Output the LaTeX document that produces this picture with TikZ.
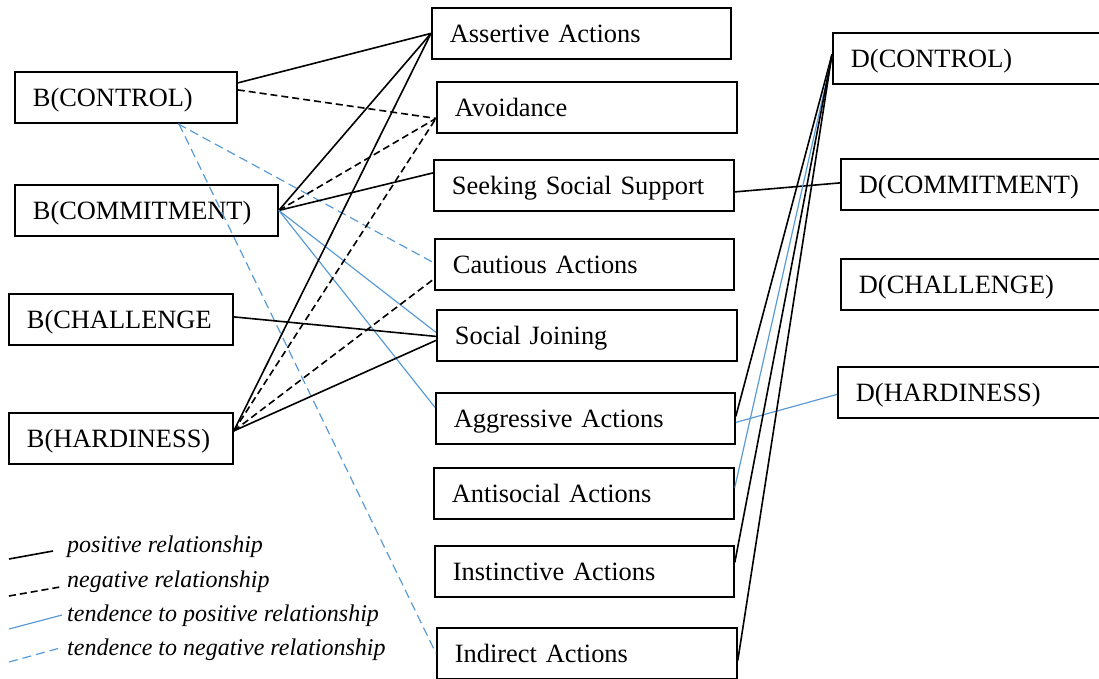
\documentclass[tikz,border=0pt]{standalone}
\usepackage{fontspec}
\setmainfont{Liberation Serif}
\usepackage{tikz}
\definecolor{relblue}{RGB}{91,155,213}
\tikzstyle{factor}  = [rectangle, draw, line width=1.8pt, minimum height=51pt,
                       inner xsep=18pt, inner ysep=0pt, text height=23pt, text depth=5pt,
                       align=left, anchor=north west, font=\fontsize{26.4}{30}\selectfont]
\tikzstyle{posrel}  = [black, line width=1.6pt]
\tikzstyle{negrel}  = [black, line width=1.6pt, dash pattern=on 7pt off 4pt]
\tikzstyle{tposrel} = [relblue, line width=1.2pt]
\tikzstyle{tnegrel} = [relblue, line width=1.2pt, dash pattern=on 9pt off 5pt]

\begin{document}
\begin{tikzpicture}[x=1pt, y=-1pt,
      legtext/.style={anchor=base west, inner sep=0pt,
                      font=\fontsize{24}{28}\selectfont\itshape},
    ]
    \useasboundingbox (0,0) rectangle (1099,679);
    \clip (0,0) rectangle (1099,679);

    % before
    \node[factor, text width=186pt] (bcon) at (14,71)  {B(CONTROL)};
    \node[factor, text width=227pt] (bcom) at (14,184) {B(COMMITMENT)};
    \node[factor, text width=188pt] (bcha) at (8,293)  {B(CHALLENGE};
    \node[factor, text width=188pt] (bhar) at (8,412)  {B(HARDINESS)};

    % coping actions
    \node[factor, text width=263pt] (assert) at (431,7)   {Assertive Actions};
    \node[factor, text width=264pt] (avoid)  at (436,81)  {Avoidance};
    \node[factor, text width=264pt] (seek)   at (433,159) {Seeking Social Support};
    \node[factor, text width=263pt] (caut)   at (434,238) {Cautious Actions};
    \node[factor, text width=264pt] (join)   at (436,309) {Social Joining};
    \node[factor, text width=263pt] (aggr)   at (435,392) {Aggressive Actions};
    \node[factor, text width=264pt] (anti)   at (433,467) {Antisocial Actions};
    \node[factor, text width=263pt] (inst)   at (434,545) {Instinctive Actions};
    \node[factor, text width=264pt] (indir)  at (436,627) {Indirect Actions};

    % during
    \node[factor, text width=264pt] (dcon) at (832,32)  {D(CONTROL)};
    \node[factor, text width=264pt] (dcom) at (840,158) {D(COMMITMENT)};
    \node[factor, text width=264pt] (dcha) at (840,258) {D(CHALLENGE)};
    \node[factor, text width=264pt] (dhar) at (837,366) {D(HARDINESS)};

    \draw[posrel]  ([yshift=14.5pt]bcon.east) -- (assert.west);
    \draw[negrel]  ([yshift=7.5pt]bcon.east) -- ([yshift=-11pt]avoid.west);
    \draw[tnegrel] ([xshift=52pt]bcon.south) -- ([yshift=1.5pt]caut.west);
    \draw[tnegrel] ([xshift=53pt]bcon.south) -- (indir.west);

    \draw[posrel]  (bcom.east) -- (assert.west);
    \draw[negrel]  (bcom.east) -- ([yshift=-11pt]avoid.west);
    \draw[posrel]  (bcom.east) -- ([yshift=12.5pt]seek.west);
    \draw[tposrel] (bcom.east) -- ([yshift=3pt]join.west);
    \draw[tposrel] (bcom.east) -- ([yshift=11pt]aggr.west);

    \draw[posrel]  ([yshift=2.5pt]bcha.east) -- ([yshift=-1pt]join.west);

    \draw[posrel]  ([yshift=7.5pt]bhar.east) -- (assert.west);
    \draw[negrel]  ([yshift=7.5pt]bhar.east) -- ([yshift=-11pt]avoid.west);
    \draw[negrel]  ([yshift=7.5pt]bhar.east) -- ([yshift=-14.5pt]caut.west);
    \draw[posrel]  ([yshift=7.5pt]bhar.east) -- ([yshift=-5pt]join.west);

    \draw[posrel]  ([yshift=-6.5pt]seek.east) -- ([yshift=1.5pt]dcom.west);
    \draw[posrel]  ([yshift=2pt]aggr.east) -- ([yshift=4pt]dcon.west);
    \draw[tposrel] ([yshift=-4pt]aggr.east) -- ([yshift=-2pt]dhar.west);
    \draw[tposrel] ([yshift=6pt]anti.east) -- ([yshift=2pt]dcon.west);
    \draw[posrel]  ([yshift=9pt]inst.east) -- ([yshift=4pt]dcon.west);
    \draw[posrel]  ([yshift=-7pt]indir.east) -- ([yshift=4pt]dcon.west);

    % legend
    \draw[posrel]  (9,559) -- (53,551);
    \node[legtext] (lpos)  at (67,552) {positive relationship};
    \draw[negrel]  (9,596) -- (60,587);
    \node[legtext] (lneg)  at (67,587) {negative relationship};
    \draw[tposrel] (9,629) -- (62,615);
    \node[legtext] (ltpos) at (67,621) {tendence to positive relationship};
    \draw[tnegrel] (9,662) -- (60,648);
    \node[legtext] (ltneg) at (67,655) {tendence to negative relationship};
  \end{tikzpicture}
\end{document}
